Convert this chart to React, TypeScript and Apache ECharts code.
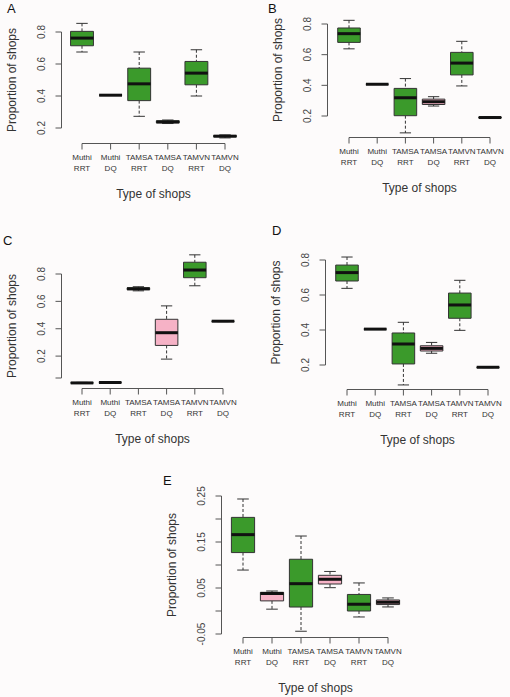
import React, { useEffect, useRef } from "react";
import * as echarts from "echarts";

// ---- data ----
const categories = ["Muthi\nRRT", "Muthi\nDQ", "TAMSA\nRRT", "TAMSA\nDQ", "TAMVN\nRRT", "TAMVN\nDQ"];

// each box: [min, Q1, median, Q3, max]
const boxesA = [
  [0.675, 0.714, 0.762, 0.804, 0.854],
  [0.405, 0.405, 0.405, 0.405, 0.405],
  [0.273, 0.371, 0.476, 0.574, 0.675],
  [0.228, 0.232, 0.238, 0.245, 0.25],
  [0.4, 0.47, 0.543, 0.616, 0.689],
  [0.138, 0.145, 0.149, 0.153, 0.157],
];
const boxesB = [
  [0.638, 0.68, 0.737, 0.774, 0.824],
  [0.407, 0.407, 0.407, 0.407, 0.407],
  [0.09, 0.202, 0.319, 0.38, 0.444],
  [0.265, 0.275, 0.293, 0.31, 0.326],
  [0.396, 0.468, 0.545, 0.615, 0.687],
  [0.185, 0.187, 0.19, 0.193, 0.195],
];
const boxesC = [
  [0.0, 0.002, 0.004, 0.006, 0.008],
  [0.007, 0.007, 0.007, 0.007, 0.007],
  [0.677, 0.685, 0.692, 0.699, 0.707],
  [0.178, 0.278, 0.371, 0.469, 0.567],
  [0.714, 0.773, 0.829, 0.886, 0.94],
  [0.452, 0.454, 0.455, 0.456, 0.458],
];
const boxesD = [
  [0.638, 0.68, 0.728, 0.771, 0.817],
  [0.404, 0.405, 0.405, 0.406, 0.407],
  [0.086, 0.206, 0.32, 0.383, 0.444],
  [0.267, 0.28, 0.295, 0.31, 0.329],
  [0.398, 0.467, 0.543, 0.611, 0.684],
  [0.185, 0.186, 0.187, 0.188, 0.19],
];
const boxesE = [
  [0.089, 0.127, 0.166, 0.2035, 0.2435],
  [0.004, 0.022, 0.038, 0.0406, 0.0435],
  [-0.044, 0.0086, 0.0594, 0.1125, 0.163],
  [0.0507, 0.0587, 0.069, 0.0776, 0.086],
  [-0.013, 0.0, 0.0147, 0.036, 0.061],
  [0.0088, 0.014, 0.019, 0.024, 0.0284],
];

// tick values
const ticksA = [0.2, 0.4, 0.6, 0.8];
const ticksB = [0.2, 0.4, 0.6, 0.8];
const ticksC = [0.04, 0.2, 0.4, 0.6, 0.8];
const labelsC = [0.2, 0.4, 0.6, 0.8];
const ticksD = [0.2, 0.4, 0.6, 0.8];
const ticksE = [-0.05, 0, 0.05, 0.1, 0.15, 0.2, 0.25];
const labelsE = [-0.05, 0.05, 0.15, 0.25];

const G = "#3b9a2b";
const P = "#f6b2c6";
const fillsA = [G, G, G, G, G, G];
const fillsB = [G, G, G, P, G, G];
const fillsC = [G, G, G, P, G, G];
const fillsD = [G, G, G, P, G, G];
const fillsE = [G, P, G, P, G, P];

const FONT = "Liberation Sans";
const AXIS_COLOR = "#555";
const TEXT_COLOR = "#333";
const TICK_LEN = 6;

interface PanelSpec {
  letter: string;
  letterX: number;
  letterY: number;
  left: number;
  top: number;
  width: number;
  height: number;
  yMin: number;
  yMax: number;
  ticks: number[];
  labels: number[];
  xOffset: number;
  yOffset: number;
  boxes: number[][];
  fills: string[];
}

const panels: PanelSpec[] = [
  { letter: "A", letterX: 7, letterY: 2, left: 82, top: 32, width: 143, height: 96, yMin: 0.2, yMax: 0.8, ticks: ticksA, labels: ticksA, xOffset: 15, yOffset: 21, boxes: boxesA, fills: fillsA },
  { letter: "B", letterX: 268, letterY: 2, left: 349, top: 24, width: 141, height: 92, yMin: 0.2, yMax: 0.8, ticks: ticksB, labels: ticksB, xOffset: 21, yOffset: 22, boxes: boxesB, fills: fillsB },
  { letter: "C", letterX: 3, letterY: 234, left: 82, top: 274, width: 141, height: 104, yMin: 0.04, yMax: 0.8, ticks: ticksC, labels: labelsC, xOffset: 10, yOffset: 21, boxes: boxesC, fills: fillsC },
  { letter: "D", letterX: 272, letterY: 224, left: 347, top: 260, width: 141, height: 105, yMin: 0.2, yMax: 0.8, ticks: ticksD, labels: ticksD, xOffset: 24, yOffset: 22, boxes: boxesD, fills: fillsD },
  { letter: "E", letterX: 163, letterY: 474, left: 243, top: 496, width: 145, height: 138, yMin: -0.05, yMax: 0.25, ticks: ticksE, labels: labelsE, xOffset: 3, yOffset: 22, boxes: boxesE, fills: fillsE },
];

function buildOption() {
  const grid: any[] = [];
  const xAxis: any[] = [];
  const yAxis: any[] = [];
  const series: any[] = [];
  const graphic: any[] = [];

  panels.forEach((p, i) => {
    grid.push({ left: p.left, top: p.top, width: p.width, height: p.height, containLabel: false });
    xAxis.push({
      type: "category",
      gridIndex: i,
      data: categories,
      boundaryGap: false,
      offset: p.xOffset,
      axisLine: { show: false, onZero: false },
      axisTick: { show: false },
      axisLabel: {
        show: true,
        interval: 0,
        fontSize: 8,
        lineHeight: 11,
        color: "#333",
        margin: 9,
      },
      splitLine: { show: false },
      name: "Type of shops",
      nameLocation: "middle",
      nameGap: 45,
      nameTextStyle: { fontSize: 12, color: TEXT_COLOR },
    });
    yAxis.push({
      type: "value",
      gridIndex: i,
      min: p.yMin,
      max: p.yMax,
      offset: p.yOffset,
      axisLine: { show: false, onZero: false },
      axisTick: { show: false },
      axisLabel: {
        show: true,
        customValues: p.labels,
        rotate: 90,
        fontSize: 10,
        color: "#444",
        margin: 15,
      },
      splitLine: { show: false },
      name: "Proportion of shops",
      nameLocation: "middle",
      nameRotate: 90,
      nameGap: 43,
      nameTextStyle: { fontSize: 12, color: TEXT_COLOR },
    });

    // R-style axis lines and ticks, placed through the axes' own scales
    const ticks = p.ticks;
    series.push({
      type: "custom",
      xAxisIndex: i,
      yAxisIndex: i,
      clip: false,
      silent: true,
      data: [[0, p.yMin]],
      encode: { x: 0, y: 1 },
      renderItem: (params: any, api: any) => {
        const bottom = api.coord([0, p.yMin]);
        const topPt = api.coord([0, p.yMax]);
        const ax = Math.round(bottom[0] - p.yOffset) + 0.5;
        const ay = Math.round(bottom[1] + p.xOffset) + 0.5;
        const style = { stroke: AXIS_COLOR, lineWidth: 1 };
        const children: any[] = [];
        children.push({ type: "line", shape: { x1: ax, y1: bottom[1], x2: ax, y2: topPt[1] }, style });
        ticks.forEach((t) => {
          const c = api.coord([0, t]);
          children.push({ type: "line", shape: { x1: ax - TICK_LEN, y1: c[1], x2: ax, y2: c[1] }, style });
        });
        const xa = api.coord([0, p.yMin])[0];
        const xb = api.coord([categories.length - 1, p.yMin])[0];
        children.push({ type: "line", shape: { x1: xa, y1: ay, x2: xb, y2: ay }, style });
        categories.forEach((_, k) => {
          const cx = api.coord([k, p.yMin])[0];
          children.push({ type: "line", shape: { x1: cx, y1: ay, x2: cx, y2: ay + TICK_LEN }, style });
        });
        return { type: "group", children };
      },
    });

    const fills = p.fills;
    series.push({
      type: "custom",
      xAxisIndex: i,
      yAxisIndex: i,
      clip: false,
      data: p.boxes.map((b, k) => [k, ...b]),
      encode: { x: 0, y: [1, 2, 3, 4, 5] },
      renderItem: (params: any, api: any) => {
        const x = api.value(0);
        const pMin = api.coord([x, api.value(1)]);
        const pQ1 = api.coord([x, api.value(2)]);
        const pMed = api.coord([x, api.value(3)]);
        const pQ3 = api.coord([x, api.value(4)]);
        const pMax = api.coord([x, api.value(5)]);
        const unit = Math.abs(api.coord([1, api.value(3)])[0] - api.coord([0, api.value(3)])[0]);
        const hw = unit * 0.4;
        const cw = hw * 0.5;
        const cx = pMin[0];
        const fill = fills[params.dataIndex];
        const stroke = "#333";
        return {
          type: "group",
          children: [
            { type: "line", shape: { x1: cx, y1: pMax[1], x2: cx, y2: pQ3[1] }, style: { stroke, lineWidth: 1, lineDash: [3, 2] } },
            { type: "line", shape: { x1: cx, y1: pQ1[1], x2: cx, y2: pMin[1] }, style: { stroke, lineWidth: 1, lineDash: [3, 2] } },
            { type: "line", shape: { x1: cx - cw, y1: pMax[1], x2: cx + cw, y2: pMax[1] }, style: { stroke, lineWidth: 1 } },
            { type: "line", shape: { x1: cx - cw, y1: pMin[1], x2: cx + cw, y2: pMin[1] }, style: { stroke, lineWidth: 1 } },
            { type: "rect", shape: { x: cx - hw, y: pQ3[1], width: 2 * hw, height: pQ1[1] - pQ3[1] }, style: { fill, stroke, lineWidth: 1 } },
            { type: "line", shape: { x1: cx - hw, y1: pMed[1], x2: cx + hw, y2: pMed[1] }, style: { stroke: "#111", lineWidth: 3 } },
          ],
        };
      },
    });
    graphic.push({
      type: "text",
      left: p.letterX,
      top: p.letterY,
      style: { text: p.letter, fontFamily: FONT, fontSize: 13, fill: "#111" },
    });
  });

  return {
    animation: false,
    backgroundColor: "#fdfbfb",
    textStyle: { fontFamily: FONT },
    grid,
    xAxis,
    yAxis,
    series,
    graphic,
  };
}

export default function App() {
  const ref = useRef<HTMLDivElement>(null);
  useEffect(() => {
    if (!ref.current) return;
    const chart = echarts.init(ref.current, undefined, { renderer: "svg" });
    chart.setOption(buildOption() as any);
    return () => chart.dispose();
  }, []);
  return (
    <div
      ref={ref}
      style={{ position: "fixed", left: 0, top: 0, width: 510, height: 697 }}
    />
  );
}
